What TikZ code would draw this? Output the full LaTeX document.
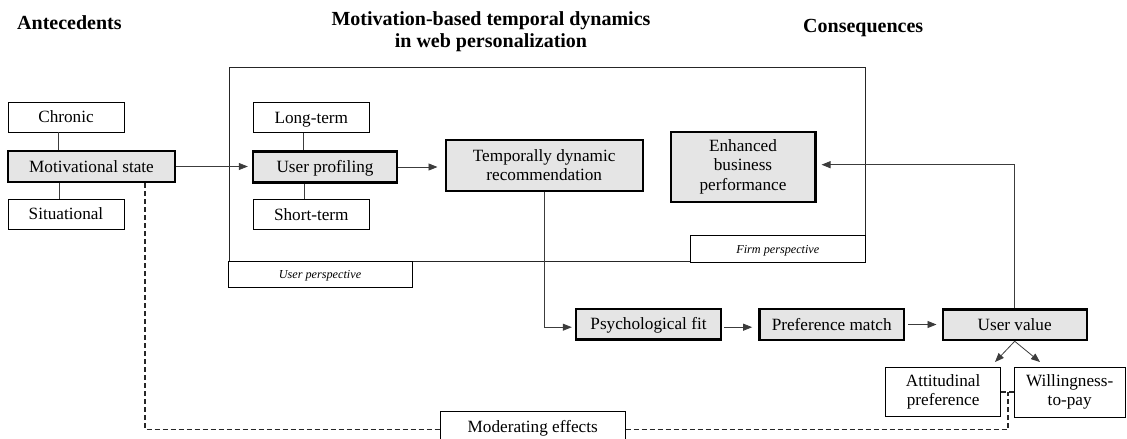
\documentclass[tikz,border=0pt]{standalone}
\usepackage{fontspec}
\setmainfont{Liberation Serif}
\usetikzlibrary{arrows.meta,calc}

\definecolor{boxgray}{RGB}{229,229,229}
\definecolor{linegray}{RGB}{60,60,60}

\newcommand\figbody{\fontsize{17.2}{19.5}\selectfont}
\newcommand\figtag{\fontsize{12.2}{14}\selectfont\itshape}
\newcommand\fighead{\fontsize{20}{22}\selectfont\bfseries}

\tikzset{
  base/.style={draw=black, line width=0.9pt, inner sep=0pt, align=center,
               font=\figbody, text=black},
  plain/.style={base, fill=white},
  key/.style={base, fill=boxgray, line width=2.4pt},
  tag/.style={base, fill=white, font=\figtag, text height=8.1pt, text depth=0pt},
  oneline/.style={text height=11.4pt, text depth=0pt},
  frame/.style={draw=black!85, line width=1pt, inner sep=0pt},
  link/.style={draw=linegray, line width=0.8pt},
  arr/.style={link, -{Triangle[length=9pt,width=7pt]}},
  moderation/.style={draw=black!85, line width=1.1pt, dash pattern=on 5pt off 3pt},
  heading/.style={font=\fighead, inner sep=0pt, align=center}
}

\begin{document}
\begin{tikzpicture}[x=1pt, y=-1pt]
\useasboundingbox (0,0) rectangle (1127,439);

% column headings
\node[heading, anchor=base west] (antecedents) at (17,29) {Antecedents};
\node[heading] (middle) at (491,31.5) {Motivation-based temporal dynamics\\in web personalization};
\node[heading, anchor=base west] (consequences) at (803,32) {Consequences};

% antecedents
\node[plain, oneline, minimum width=116pt, minimum height=30pt] (chronic) at (66,117) {Chronic};
\node[key, oneline, minimum width=167pt, minimum height=31pt] (motiv) at (91.5,166.5) {Motivational state};
\node[plain, oneline, minimum width=116pt, minimum height=30pt] (situ) at (66,214) {Situational};

% personalization frame
\node[frame, minimum width=636pt, minimum height=194pt] (panel) at (547,164) {};

\node[plain, oneline, minimum width=116pt, minimum height=30pt] (longterm) at (311.3,117.3) {Long-term};
\node[key, oneline, minimum width=144pt, minimum height=31pt] (profiling) at (325,167) {User profiling};
\node[plain, oneline, minimum width=116pt, minimum height=30pt] (shortterm) at (311.3,214.3) {Short-term};
\node[key, minimum width=197pt, minimum height=51pt] (temporal) at (544.2,165.3) {Temporally dynamic\\recommendation};
\node[key, minimum width=144.6pt, minimum height=70pt] (enhanced) at (743,166.7) {Enhanced\\business\\performance};
\node[tag, minimum width=174.3pt, minimum height=26.6pt] (firm) at (777.8,249) {Firm perspective};
\node[tag, minimum width=184pt, minimum height=26pt] (userpersp) at (320,274.7) {User perspective};

% outcome chain
\node[key, oneline, minimum width=145pt, minimum height=30.3pt] (psych) at (648.5,324.2) {Psychological fit};
\node[key, oneline, minimum width=144.7pt, minimum height=31pt] (pref) at (831.7,324.5) {Preference match};
\node[key, oneline, minimum width=144pt, minimum height=30.7pt] (value) at (1014.7,324.7) {User value};
\node[plain, minimum width=115.2pt, minimum height=49.4pt] (attit) at (943.1,392) {Attitudinal\\preference};
\node[plain, minimum width=111pt, minimum height=50pt] (willing) at (1069.7,392) {Willingness-\\to-pay};
\node[plain, oneline, minimum width=184.7pt, minimum height=30pt] (moder) at (532.7,426.7) {Moderating effects};

% free ends
\coordinate (tipA) at (995,362);
\coordinate (tipB) at (1040,362);
\coordinate (join) at (1008,392);

% dimension links
\draw[link] ([xshift=-8pt]chronic.south) -- ([xshift=-8pt]chronic.south |- motiv.north);
\draw[link] ([xshift=-7pt]situ.north) -- ([xshift=-7pt]situ.north |- motiv.south);
\draw[link] ([xshift=-7.5pt]longterm.south) -- ([xshift=-7.5pt]longterm.south |- profiling.north);
\draw[link] ([xshift=-7.3pt]shortterm.north) -- ([xshift=-7.3pt]shortterm.north |- profiling.south);

% causal arrows
\draw[arr, shorten >=4pt] (motiv.east) -- (motiv.east -| profiling.west);
\draw[arr, shorten >=7pt] (profiling.east) -- (profiling.east -| temporal.west);
\draw[arr, shorten >=3pt] (temporal.south) |- ([yshift=-3pt]psych.west);
\draw[arr, shorten <=2pt, shorten >=6pt] ([yshift=-3pt]psych.east) -- ([yshift=-3pt]psych.east -| pref.west);
\draw[arr, shorten <=3pt, shorten >=5pt] (pref.east) -- (pref.east -| value.west);
\draw[arr, shorten >=5pt] (value.north) |- ([yshift=2pt]enhanced.east);
\draw[arr] (value.south) -- (tipA);
\draw[arr] (value.south) -- (tipB);

% moderating paths
\draw[moderation] ([xshift=53.5pt]motiv.south) |- ([yshift=-3pt]moder.west);
\draw[moderation] ([yshift=-3pt]moder.east) -| (join);
\draw[moderation] (attit.east) -- (willing.west);
\end{tikzpicture}
\end{document}
